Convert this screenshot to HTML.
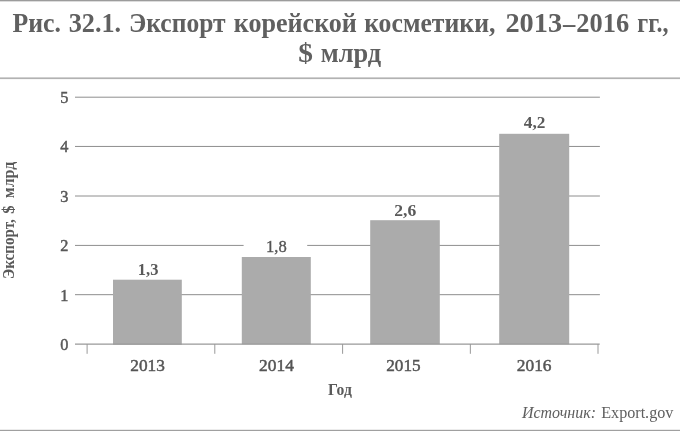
<!DOCTYPE html>
<html lang="ru">
<head>
<meta charset="utf-8">
<title>Рис. 32.1. Экспорт корейской косметики</title>
<style>
html,body{margin:0;padding:0;background:#fff;}
body{width:680px;height:431px;overflow:hidden;}
svg{display:block;}
text{font-family:"Liberation Serif","DejaVu Serif",serif;fill:#5a5a5a;}
.t{font-size:26.5px;font-weight:bold;fill:#606060;}
.ax{font-size:16.3px;fill:#555;stroke:#555;stroke-width:0.45px;}
.v{font-size:17.2px;font-weight:bold;fill:#555;}
.vr{font-size:17.2px;font-weight:normal;fill:#555;stroke:#555;stroke-width:0.35px;}
.b{font-size:16.3px;font-weight:bold;fill:#5a5a5a;}
.s{font-size:16px;fill:#5f5f5f;}
</style>
</head>
<body>
<svg width="680" height="431" viewBox="0 0 680 431">
<rect x="0" y="0" width="680" height="431" fill="#fff"/>
<!-- rules -->
<rect x="0" y="0" width="680" height="1.35" fill="#9c9c9c"/>
<rect x="0" y="77.4" width="680" height="1.7" fill="#b2b2b2"/>
<rect x="0" y="429.8" width="680" height="1.2" fill="#a0a0a0"/>
<!-- title -->
<g>
<text class="t" x="12.47" y="32.00" textLength="48.47" lengthAdjust="spacingAndGlyphs">Рис.</text>
<text class="t" x="68.69" y="32.00" textLength="52.43" lengthAdjust="spacingAndGlyphs">32.1.</text>
<text class="t" x="128.91" y="32.00" textLength="96.68" lengthAdjust="spacingAndGlyphs">Экспорт</text>
<text class="t" x="233.77" y="32.00" textLength="123.13" lengthAdjust="spacingAndGlyphs">корейской</text>
<text class="t" x="364.14" y="32.00" textLength="131.28" lengthAdjust="spacingAndGlyphs">косметики,</text>
<text class="t" x="505.44" y="32.00" textLength="56.69" lengthAdjust="spacingAndGlyphs">2013</text>
<text class="t" x="563.00" y="32.00" textLength="12.30" lengthAdjust="spacingAndGlyphs">–</text>
<text class="t" x="576.27" y="32.00" textLength="52.85" lengthAdjust="spacingAndGlyphs">2016</text>
<text class="t" x="637.32" y="32.00" textLength="31.15" lengthAdjust="spacingAndGlyphs">гг.,</text>
<text class="t" x="298.32" y="62.00" textLength="14.68" lengthAdjust="spacingAndGlyphs">$</text>
<text class="t" x="320.74" y="62.00" textLength="60.42" lengthAdjust="spacingAndGlyphs">млрд</text>
</g>
<!-- gridlines -->
<g stroke="#8e8e8e" stroke-width="1">
<line x1="75" x2="599.9" y1="97.2" y2="97.2"/>
<line x1="75" x2="599.9" y1="146.45" y2="146.45"/>
<line x1="75" x2="599.9" y1="196.0" y2="196.0"/>
<line x1="75" x2="599.9" y1="245.42" y2="245.42"/>
<line x1="75" x2="599.9" y1="294.68" y2="294.68"/>
</g>
<rect x="243.6" y="236" width="63.6" height="20" fill="#fff"/>
<!-- bars -->
<g fill="#ababab">
<rect x="113" y="279.7" width="68.8" height="65"/>
<rect x="241.8" y="257" width="69" height="87.3"/>
<rect x="370.2" y="220.2" width="69.6" height="124"/>
<rect x="499.2" y="133.8" width="70" height="210.5"/>
</g>
<!-- axis -->
<line x1="75" x2="599.7" y1="344.1" y2="344.1" stroke="#999" stroke-width="1.15"/>
<g stroke="#999" stroke-width="1">
<line x1="87.1" x2="87.1" y1="344" y2="353.8"/>
<line x1="214.8" x2="214.8" y1="344" y2="353.8"/>
<line x1="342.6" x2="342.6" y1="344" y2="353.8"/>
<line x1="470.35" x2="470.35" y1="344" y2="353.8"/>
<line x1="598" x2="598" y1="344" y2="353.8"/>
</g>
<!-- y labels -->
<g class="ax" text-anchor="end">
<text x="68.5" y="102.95">5</text>
<text x="68.5" y="152.35">4</text>
<text x="68.5" y="201.75">3</text>
<text x="68.5" y="251.15">2</text>
<text x="68.5" y="300.5">1</text>
<text x="68.5" y="350.05">0</text>
</g>
<!-- x labels -->
<g>
<text class="ax" x="130.25" y="371.40" textLength="34.55" lengthAdjust="spacingAndGlyphs">2013</text>
<text class="ax" x="259.09" y="371.40" textLength="34.81" lengthAdjust="spacingAndGlyphs">2014</text>
<text class="ax" x="386.28" y="371.40" textLength="34.36" lengthAdjust="spacingAndGlyphs">2015</text>
<text class="ax" x="516.80" y="371.40" textLength="34.75" lengthAdjust="spacingAndGlyphs">2016</text>
</g>
<!-- value labels -->
<g class="v">
<text x="137.8" y="274.8" textLength="20.6" lengthAdjust="spacingAndGlyphs">1,3</text>
<text class="vr" x="266" y="252.1" textLength="20.7" lengthAdjust="spacingAndGlyphs">1,8</text>
<text x="394.3" y="215.5" textLength="22" lengthAdjust="spacingAndGlyphs">2,6</text>
<text x="523.8" y="127.6" textLength="21.6" lengthAdjust="spacingAndGlyphs">4,2</text>
</g>
<!-- axis titles -->
<text class="b" x="328.05" y="395.00" textLength="23.85" lengthAdjust="spacingAndGlyphs">Год</text>
<g class="b" transform="translate(14.2 278.3) rotate(-90)">
<text x="-0.73" y="0" textLength="59.78" lengthAdjust="spacingAndGlyphs">Экспорт,</text>
<text x="64.50" y="0" textLength="8.34" lengthAdjust="spacingAndGlyphs">$</text>
<text x="80.17" y="0" textLength="36.33" lengthAdjust="spacingAndGlyphs">млрд</text>
</g>
<!-- source -->
<text class="s" x="521.91" y="418.10" textLength="74.06" lengthAdjust="spacingAndGlyphs" font-style="italic">Источник:</text>
<text class="s" x="601.21" y="418.10" textLength="72.16" lengthAdjust="spacingAndGlyphs">Export.gov</text>
</svg>
</body>
</html>
